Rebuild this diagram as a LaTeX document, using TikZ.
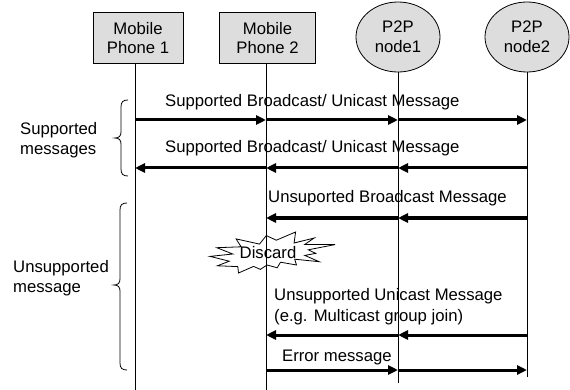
\documentclass[tikz,border=0pt]{standalone}
\usepackage{fontspec}
\setmainfont{Liberation Sans}
\usetikzlibrary{arrows.meta,shapes.geometric}
\definecolor{boxgray}{RGB}{221,221,221}
\begin{document}
\begin{tikzpicture}[x=1pt,y=-1pt,
  every node/.style={font=\fontsize{16.7}{19.5}\selectfont, inner sep=0pt, text=black},
  actorbox/.style={draw=black, line width=0.8pt, fill=boxgray, minimum height=51pt, align=center},
  peer/.style={ellipse, draw=black, line width=0.8pt, fill=boxgray, minimum width=84pt, minimum height=70pt, align=center},
  life/.style={line width=0.9pt},
  msg/.style={line width=3pt, -{Triangle[length=10pt,width=9pt]}},
  lbl/.style={anchor=west, align=left, font=\fontsize{16.7}{20.5}\selectfont},
  brc/.style={line width=0.8pt},
  burst/.style={line width=0.8pt, line join=miter}]
\useasboundingbox (0,0) rectangle (570,390);

% actors
\node[actorbox, minimum width=90pt] (mp1) at (138,38) {Mobile\\Phone 1};
\node[actorbox, minimum width=96pt] (mp2) at (267.5,38) {Mobile\\Phone 2};
\node[peer] (p1) at (398,37) {P2P\\node1};
\node[peer] (p2) at (527,37) {P2P\\node2};

% lifeline ends
\coordinate (end1) at (135,390);
\coordinate (end2) at (266,390);
\coordinate (end3) at (398,383);
\coordinate (end4) at (527,377);
\draw[life] (mp1.south -| end1) -- (end1);
\draw[life] (mp2.south -| end2) -- (end2);
\draw[life] (p1.south) -- (end3);
\draw[life] (p2.south) -- (end4);

% message rows
\foreach \n/\y in {m1/120, m2/168, m3/218, m4/335, m5/370} {
  \coordinate (\n-a) at (135,\y);
  \coordinate (\n-b) at (266,\y);
  \coordinate (\n-c) at (398,\y);
  \coordinate (\n-d) at (527,\y);
}

% messages
\draw[msg] (m1-a) -- (m1-b);
\draw[msg] (m1-b) -- (m1-c);
\draw[msg] (m1-c) -- (m1-d);
\draw[msg] (m2-d) -- (m2-c);
\draw[msg] (m2-c) -- (m2-b);
\draw[msg] (m2-b) -- (m2-a);
\draw[msg] (m3-d) -- (m3-c);
\draw[msg] (m3-c) -- (m3-b);
\draw[msg] (m4-d) -- (m4-c);
\draw[msg] (m4-c) -- (m4-b);
\draw[msg] (m5-b) -- (m5-c);
\draw[msg] (m5-c) -- (m5-d);

% labels
\node[lbl] (l1) at (165,102) {Supported Broadcast/ Unicast Message};
\node[lbl] (l2) at (165,148) {Supported Broadcast/ Unicast Message};
\node[lbl] (l3) at (268,198) {Unsuported Broadcast Message};
\node[lbl] (l4) at (274,306.5) {Unsupported Unicast Message\\(e.g. Multicast group join)};
\node[lbl] (l5) at (282,357) {Error message};

% group labels
\node[lbl] (g1) at (20,140) {Supported\\messages};
\node[lbl] (g2) at (13,278) {Unsupported\\message};

% braces
\draw[brc] (128,100) .. controls (123,100) and (121,102) .. (121,107) -- (121,132)
  .. controls (121,136) and (119,138) .. (115,138)
  .. controls (119,138) and (121,140) .. (121,144) -- (121,169)
  .. controls (121,174) and (123,176) .. (128,176);
\draw[brc] (127,203) .. controls (122,203) and (120,205) .. (120,210) -- (120,279)
  .. controls (120,283) and (118,285) .. (114,285)
  .. controls (118,285) and (120,287) .. (120,291) -- (120,363)
  .. controls (120,368) and (122,370) .. (127,370);

% discard burst
\draw[burst] (276.3,240.2) -- (295.6,232) -- (294.1,243.0) -- (314.2,238.0) -- (304.8,244.4)
  -- (335,244.6) -- (308.3,249.8) -- (315.7,253.4) -- (304.8,255.4) -- (319.2,261.7)
  -- (294.7,259.2) -- (296.5,265.0) -- (280.5,262.2) -- (277.2,267.8) -- (267.1,265.0)
  -- (260.3,269.4) -- (253.6,266.4) -- (238.5,273) -- (237.8,266.6) -- (217.4,265.8)
  -- (229.3,261.2) -- (210,256.4) -- (232.8,254.0) -- (216.8,247.7) -- (241.1,246.8)
  -- (236.1,238.9) -- (259.5,244.1) -- (266.3,235.6) -- cycle;
\node (discard) at (268,253) {Discard};
\end{tikzpicture}
\end{document}
